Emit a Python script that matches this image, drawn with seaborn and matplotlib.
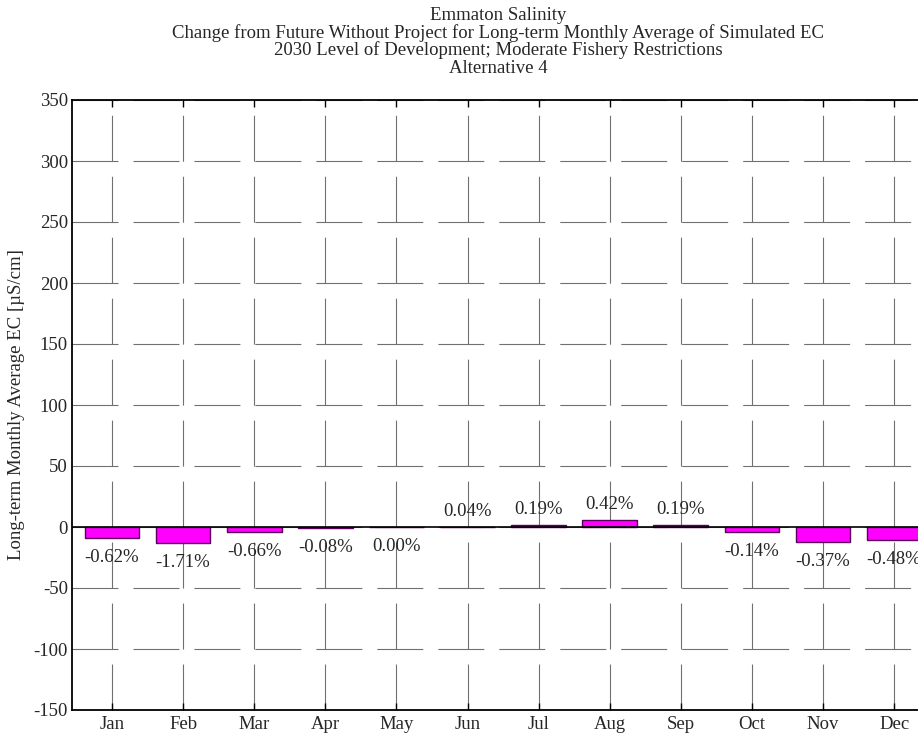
import numpy as np
import pandas as pd
import seaborn as sns
import matplotlib.pyplot as plt

# DATA
MONTHS = ["Jan", "Feb", "Mar", "Apr", "May", "Jun", "Jul", "Aug", "Sep", "Oct", "Nov", "Dec"]
EC_CHANGE = [-9.0, -13.0, -4.0, -0.6, -0.3, 0.4, 1.6, 5.7, 1.6, -4.0, -12.3, -10.7]
PCT_LABELS = ["-0.62%", "-1.71%", "-0.66%", "-0.08%", "0.00%", "0.04%",
              "0.19%", "0.42%", "0.19%", "-0.14%", "-0.37%", "-0.48%"]
Y_TICKS = list(range(-150, 351, 50))
TITLE_LINES = [
    "Emmaton Salinity",
    "Change from Future Without Project for Long-term Monthly Average of Simulated EC",
    "2030 Level of Development; Moderate Fishery Restrictions",
    "Alternative 4",
]
Y_LABEL = "Long-term Monthly Average EC [\u00b5S/cm]"

W, H = 918, 736
DPI = 100
FS = 13.5


def main():
    sns.set_style("white")
    plt.rcParams["font.family"] = ["Liberation Serif", "DejaVu Serif"]
    plt.rcParams["font.size"] = FS

    df = pd.DataFrame({"month": MONTHS, "ec": EC_CHANGE})

    fig = plt.figure(figsize=(W / DPI, H / DPI), dpi=DPI)
    # axes runs past the right edge of the figure, as in the reference crop
    left, right, top, bottom = 72, 960, 100, 710
    ax = fig.add_axes([left / W, 1 - bottom / H, (right - left) / W, (bottom - top) / H])

    sns.barplot(data=df, x="month", y="ec", color="#ff00ff", saturation=1,
                width=0.77, edgecolor="#5a005a", linewidth=1.0, ax=ax, zorder=3)

    step = 71.1
    x0 = -(112 - left) / step
    ax.set_xlim(x0, x0 + (right - left) / step)
    ax.set_ylim(-150, 350)
    ax.set_yticks(Y_TICKS)
    ax.set_yticklabels([str(t) for t in Y_TICKS])

    lw = 0.8
    ax.grid(True, color="#707070", linewidth=lw,
            linestyle=(0, (33.1 / lw, 10.8 / lw)), zorder=1)
    ax.set_axisbelow(True)
    ax.axhline(0, color="black", linewidth=1.2, zorder=4)

    for side in ["left", "top", "bottom"]:
        ax.spines[side].set_color("black")
        ax.spines[side].set_linewidth(1.3)
    ax.spines["right"].set_visible(False)

    ax.tick_params(axis="y", direction="in", length=6, width=1, color="black", pad=3, labelsize=FS)
    ax.tick_params(axis="x", direction="in", length=5, width=1, color="black",
                   top=True, bottom=True, pad=4, labelsize=FS)
    ax.set_xlabel("")
    ax.set_ylabel("")
    fig.text(17 / W, 1 - 405 / H, Y_LABEL, rotation=90, ha="center", va="center", fontsize=FS)

    for i, (val, lab) in enumerate(zip(EC_CHANGE, PCT_LABELS)):
        if val >= 0:
            ax.annotate(lab, xy=(i, val), xytext=(0, 5), textcoords="offset points",
                        ha="center", va="bottom", fontsize=FS, zorder=5)
        else:
            ax.annotate(lab, xy=(i, val), xytext=(0, -8), textcoords="offset points",
                        ha="center", va="top", fontsize=FS, zorder=5)

    for k, line in enumerate(TITLE_LINES):
        fig.text(498 / W, 1 - (15 + 17.7 * k) / H, line, ha="center", va="center", fontsize=FS)

    fig.savefig("out.png", dpi=DPI)
    plt.close(fig)


if __name__ == "__main__":
    main()
